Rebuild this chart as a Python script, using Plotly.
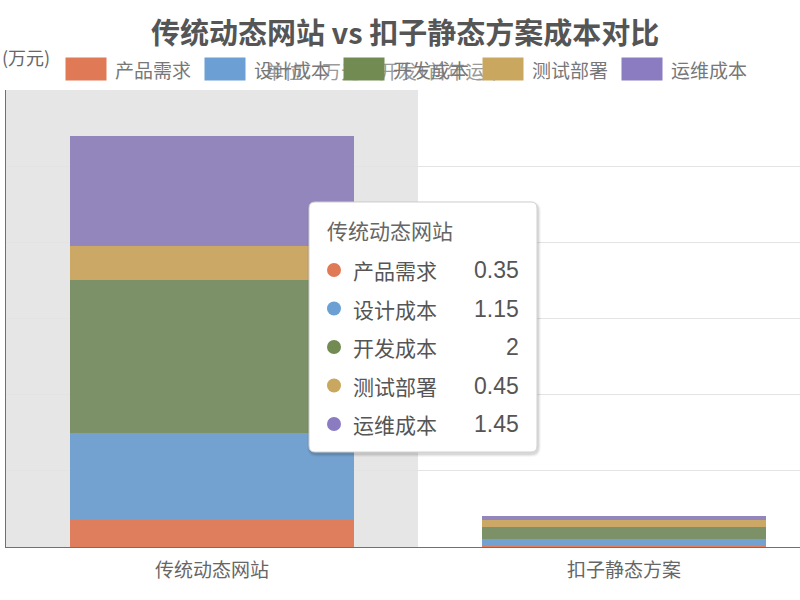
import plotly.graph_objects as go

# 数据
categories = ["传统动态网站", "扣子静态方案"]
series_names = ["产品需求", "设计成本", "开发成本", "测试部署", "运维成本"]
traditional = [0.35, 1.15, 2, 0.45, 1.45]
kouzi = [0.01, 0.1, 0.15, 0.1, 0.05]
bar_colors = ["#de7e5d", "#73a2d0", "#7d9169", "#cba865", "#9286bd"]
legend_colors = ["#e07a56", "#6c9fd3", "#718b52", "#caa75e", "#8b7cc1"]

title_text = "传统动态网站 vs 扣子静态方案成本对比"
subtitle_text = "单位：万元（开发+首年运维）"
y_name = "(万元)"

W, H = 800, 600
L, R, T, B = 6, 0, 90, 53
PW, PH = W - L - R, H - T - B
FONT = "Noto Sans CJK SC, Noto Sans, sans-serif"
NUM_FONT = "Liberation Sans, Arial, sans-serif"


def px(x):
    return (x - L) / PW


def py(y):
    return (H - B - y) / PH


def rounded(x0, y0, x1, y1, r):
    # 像素坐标 -> paper 坐标的圆角矩形路径
    rx, ry = r / PW, r / PH
    a, b, c, d = px(x0), py(y1), px(x1), py(y0)
    return (f"M{a+rx},{b} L{c-rx},{b} Q{c},{b} {c},{b+ry} L{c},{d-ry} Q{c},{d} {c-rx},{d} "
            f"L{a+rx},{d} Q{a},{d} {a},{d-ry} L{a},{b+ry} Q{a},{b} {a+rx},{b} Z")


fig = go.Figure()
for i, name in enumerate(series_names):
    fig.add_trace(go.Bar(
        x=categories, y=[traditional[i], kouzi[i]], name=name,
        marker=dict(color=bar_colors[i], line=dict(width=0)),
        width=0.69, showlegend=False, hoverinfo="skip",
    ))

shapes = []
annotations = []

# 悬停阴影
shapes.append(dict(type="rect", xref="x", yref="y", x0=-0.5, x1=0.5, y0=0, y1=6,
                   fillcolor="#e6e6e6", line=dict(width=0), layer="below"))

# 标题、副标题、坐标轴名称
annotations.append(dict(xref="paper", yref="paper", x=px(405), y=py(31),
                        xanchor="center", yanchor="middle", text=f"<b>{title_text}</b>",
                        showarrow=False, font=dict(size=29, color="#555", family=FONT)))
annotations.append(dict(xref="paper", yref="paper", x=px(394), y=py(71),
                        xanchor="center", yanchor="middle", text=subtitle_text,
                        showarrow=False, font=dict(size=19, color="#9a9a9a", family=FONT)))
annotations.append(dict(xref="paper", yref="paper", x=px(0), y=py(57),
                        xanchor="left", yanchor="middle", text=y_name,
                        showarrow=False, font=dict(size=18, color="#666", family=FONT)))

# 图例（色块盖在副标题之上）
lx = 66
for i, name in enumerate(series_names):
    x0 = lx + i * 139
    annotations.append(dict(xref="paper", yref="paper", x=px(x0 + 20), y=py(69),
                            xanchor="center", yanchor="middle", text=" ", showarrow=False,
                            width=40, height=22, bgcolor=legend_colors[i], borderpad=0,
                            font=dict(size=10)))
    annotations.append(dict(xref="paper", yref="paper", x=px(x0 + 47), y=py(69),
                            xanchor="left", yanchor="middle", text=name, showarrow=False,
                            font=dict(size=19, color="#777", family=FONT)))

# 提示框
tx0, ty0, tx1, ty1 = 309, 202, 537, 452
for k, a in enumerate([0.03, 0.05, 0.07]):
    s = 3 - k
    shapes.append(dict(type="path", xref="paper", yref="paper",
                       path=rounded(tx0 - s + 1, ty0 - s + 2, tx1 + s + 1, ty1 + s + 2, 7 + s),
                       fillcolor=f"rgba(0,0,0,{a})", line=dict(width=0)))
shapes.append(dict(type="path", xref="paper", yref="paper",
                   path=rounded(tx0, ty0, tx1, ty1, 6),
                   fillcolor="white", line=dict(color="#d0d0d0", width=1)))
annotations.append(dict(xref="paper", yref="paper", x=px(325), y=py(230),
                        xanchor="left", yanchor="middle", text=categories[0], showarrow=False,
                        font=dict(size=21, color="#666", family=FONT)))
for i, name in enumerate(series_names):
    yy = 270 + i * 38.5
    shapes.append(dict(type="circle", xref="paper", yref="paper",
                       x0=px(327), x1=px(341), y0=py(yy + 7), y1=py(yy - 7),
                       fillcolor=legend_colors[i], line=dict(width=0)))
    annotations.append(dict(xref="paper", yref="paper", x=px(351), y=py(yy),
                            xanchor="left", yanchor="middle", text=name, showarrow=False,
                            font=dict(size=21, color="#555", family=FONT)))
    annotations.append(dict(xref="paper", yref="paper", x=px(521), y=py(yy),
                            xanchor="right", yanchor="middle", text=f"{traditional[i]:g}",
                            showarrow=False, font=dict(size=23, color="#555", family=NUM_FONT)))

fig.update_layout(
    width=W, height=H,
    margin=dict(l=L, r=R, t=T, b=B),
    barmode="stack",
    plot_bgcolor="white", paper_bgcolor="white",
    showlegend=False,
    shapes=shapes, annotations=annotations,
    font=dict(family=FONT),
    xaxis=dict(
        type="category", range=[-0.5, 1.427], showgrid=False,
        showline=True, linecolor="#6e7079", linewidth=1, ticks="",
        ticklabelstandoff=6,
        tickfont=dict(size=19, color="#666", family=FONT),
    ),
    yaxis=dict(
        range=[0, 6], dtick=1, showticklabels=False, zeroline=False,
        gridcolor="#e3e3e3", gridwidth=1,
        showline=True, linecolor="#6e7079", linewidth=1,
    ),
)

# 去掉页面默认边距，让图从左上角开始
fig.write_html("out.html", config={"displayModeBar": False},
               post_script="document.body.style.margin='0';")
